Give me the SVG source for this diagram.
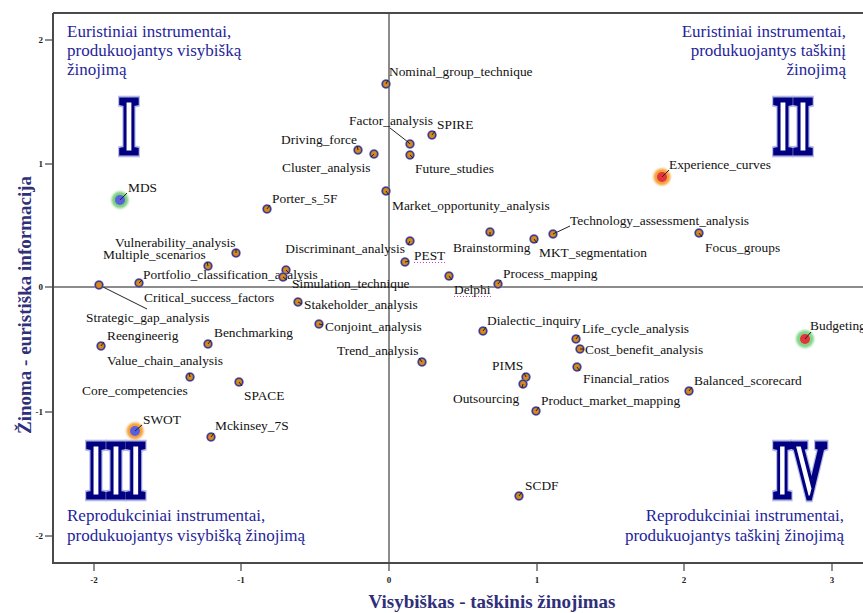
<svg xmlns="http://www.w3.org/2000/svg" xmlns:xlink="http://www.w3.org/1999/xlink" width="863" height="613" viewBox="0 0 863 613">
  <style>
    .lbl { font-family: "Liberation Serif", "Times New Roman", serif; font-size: 13.4px; fill: #111; }
    .end { text-anchor: end; }
    .quad { font-family: "Liberation Serif", "Times New Roman", serif; font-size: 17px; fill: #1f1f9c; }
    .axt { font-family: "Liberation Serif", "Times New Roman", serif; font-size: 19px; font-weight: bold; fill: #2f2f7a; text-anchor: middle; }
    .tk { font-family: "Liberation Serif", "Times New Roman", serif; font-size: 9px; font-weight: bold; fill: #222; }
    .roman { font-family: "Liberation Serif", "Times New Roman", serif; font-weight: bold; font-size: 80px; fill: #fff; stroke: #000080; stroke-width: 4; stroke-linejoin: miter; vector-effect: non-scaling-stroke; }
    .glow { font-family: "Liberation Serif", "Times New Roman", serif; font-weight: bold; font-size: 80px; fill: none; stroke: #b4b8e6; stroke-width: 7; vector-effect: non-scaling-stroke; }
    .frame { stroke: #4a4a4a; stroke-width: 2; fill: none; }
    .zero { stroke: #666; stroke-width: 1.5; }
    .tickl { stroke: #444; stroke-width: 1.2; }
    .lead { stroke: #222; stroke-width: 1; }
    .squig { stroke: #d040d0; stroke-width: 1; stroke-dasharray: 1 2; }
  </style>
  <defs>
    <g id="dot">
      <circle r="5" fill="#a8a8dc" opacity="0.6"/>
      <circle r="3.7" fill="#d8891a" stroke="#3c3c8e" stroke-width="1.6"/>
    </g>
    <filter id="soft" x="-50%" y="-50%" width="200%" height="200%">
      <feGaussianBlur stdDeviation="0.8"/>
    </filter>
  </defs>

  <rect width="863" height="613" fill="#fff"/>

  <!-- plot frame and zero lines -->
  <g id="axes">
    <line class="zero" x1="389" y1="13" x2="389" y2="563"/>
    <line class="zero" x1="53" y1="287" x2="863" y2="287"/>
    <line class="frame" x1="53" y1="13" x2="863" y2="13"/>
    <line class="frame" x1="53" y1="13" x2="53" y2="563"/>
    <line class="frame" x1="52" y1="563" x2="863" y2="563"/>
    <!-- y ticks -->
    <line class="tickl" x1="45" y1="40" x2="53" y2="40"/>
    <line class="tickl" x1="45" y1="164" x2="53" y2="164"/>
    <line class="tickl" x1="45" y1="287" x2="53" y2="287"/>
    <line class="tickl" x1="45" y1="412" x2="53" y2="412"/>
    <line class="tickl" x1="45" y1="536" x2="53" y2="536"/>
    <text class="tk" x="43" y="43" text-anchor="end">2</text>
    <text class="tk" x="43" y="167" text-anchor="end">1</text>
    <text class="tk" x="43" y="290" text-anchor="end">0</text>
    <text class="tk" x="43" y="415" text-anchor="end">-1</text>
    <text class="tk" x="43" y="539" text-anchor="end">-2</text>
    <!-- x ticks -->
    <line class="tickl" x1="94" y1="563" x2="94" y2="571"/>
    <line class="tickl" x1="241" y1="563" x2="241" y2="571"/>
    <line class="tickl" x1="389" y1="563" x2="389" y2="571"/>
    <line class="tickl" x1="537" y1="563" x2="537" y2="571"/>
    <line class="tickl" x1="684" y1="563" x2="684" y2="571"/>
    <line class="tickl" x1="832" y1="563" x2="832" y2="571"/>
    <text class="tk" x="94" y="583" text-anchor="middle">-2</text>
    <text class="tk" x="241" y="583" text-anchor="middle">-1</text>
    <text class="tk" x="389" y="583" text-anchor="middle">0</text>
    <text class="tk" x="537" y="583" text-anchor="middle">1</text>
    <text class="tk" x="684" y="583" text-anchor="middle">2</text>
    <text class="tk" x="832" y="583" text-anchor="middle">3</text>
    <text class="axt" x="492" y="608">Visybiškas - taškinis žinojimas</text>
    <text class="axt" transform="translate(31,305) rotate(-90)">Žinoma - euristiška informacija</text>
  </g>

  <!-- quadrant captions -->
  <g id="q1">
    <text class="quad" x="67" y="37">Euristiniai instrumentai,</text>
    <text class="quad" x="67" y="56">produkuojantys visybišką</text>
    <text class="quad" x="67" y="75">žinojimą</text>
    <text class="glow" transform="translate(119,153) scale(0.64,1)">I</text>
    <text class="roman" transform="translate(119,153) scale(0.64,1)">I</text>
  </g>
  <g id="q2">
    <text class="quad end" x="846" y="37">Euristiniai instrumentai,</text>
    <text class="quad end" x="846" y="56">produkuojantys taškinį</text>
    <text class="quad end" x="846" y="75">žinojimą</text>
    <text class="glow" transform="translate(773,153) scale(0.64,1)">II</text>
    <text class="roman" transform="translate(773,153) scale(0.64,1)">II</text>
  </g>
  <g id="q3">
    <text class="quad" x="67" y="521">Reprodukciniai instrumentai,</text>
    <text class="quad" x="67" y="541">produkuojantys visybišką žinojimą</text>
    <text class="glow" transform="translate(86,497) scale(0.64,1)">III</text>
    <text class="roman" transform="translate(86,497) scale(0.64,1)">III</text>
  </g>
  <g id="q4">
    <text class="quad end" x="844" y="521">Reprodukciniai instrumentai,</text>
    <text class="quad end" x="844" y="541">produkuojantys taškinį žinojimą</text>
    <text class="glow" transform="translate(773,497) scale(0.6,1)">IV</text>
    <text class="roman" transform="translate(773,497) scale(0.6,1)">IV</text>
  </g>

  <!-- leader lines from points to labels -->
  <g id="connectors">
    <line class="lead" x1="390" y1="128" x2="408" y2="142"/>
    <line class="lead" x1="553" y1="234" x2="570" y2="226"/>
    <line class="lead" x1="99" y1="285" x2="147" y2="309"/>
    <line class="lead" x1="120" y1="200" x2="127" y2="193"/>
    <line class="lead" x1="662" y1="177" x2="669" y2="170"/>
    <line class="lead" x1="135" y1="431" x2="142" y2="425"/>
    <line class="lead" x1="805" y1="339" x2="811" y2="332"/>
  </g>

  <!-- special points with halos -->
  <g id="n-mds">
    <circle cx="120" cy="200" r="8.5" fill="#7ad07a" filter="url(#soft)"/>
    <circle cx="120" cy="200" r="5" fill="#5a5ee0"/>
    <line class="lead" x1="120" y1="200" x2="127" y2="193"/>
    <text class="lbl" x="128" y="192">MDS</text>
  </g>
  <g id="n-experience">
    <circle cx="662" cy="177" r="8.5" fill="#f5a038" filter="url(#soft)"/>
    <circle cx="662" cy="177" r="5" fill="#e2343a"/>
    <line class="lead" x1="662" y1="177" x2="669" y2="170"/>
    <text class="lbl" x="669" y="169">Experience_curves</text>
  </g>
  <g id="n-swot">
    <circle cx="135" cy="431" r="8.5" fill="#f5a038" filter="url(#soft)"/>
    <circle cx="135" cy="431" r="5" fill="#5a5ee0"/>
    <line class="lead" x1="135" y1="431" x2="142" y2="425"/>
    <text class="lbl" x="143" y="424">SWOT</text>
  </g>
  <g id="n-budgeting">
    <circle cx="805" cy="339" r="9" fill="#82d48a" filter="url(#soft)"/>
    <circle cx="805" cy="339" r="5" fill="#e2343a"/>
    <line class="lead" x1="805" y1="339" x2="811" y2="332"/>
    <text class="lbl" x="810" y="330">Budgeting</text>
  </g>

  <!-- upper half -->
  <g id="n-nominal"><use xlink:href="#dot" x="386" y="84"/><line class="lead" x1="386" y1="84" x2="388" y2="80"/><text class="lbl" x="389" y="76">Nominal_group_technique</text></g>
  <g id="n-factor"><use xlink:href="#dot" x="410" y="144"/><line class="lead" x1="410" y1="144" x2="407" y2="141"/><text class="lbl" x="349" y="125">Factor_analysis</text></g>
  <g id="n-spire"><use xlink:href="#dot" x="432" y="135"/><line class="lead" x1="432" y1="135" x2="435" y2="131"/><text class="lbl" x="437" y="129">SPIRE</text></g>
  <g id="n-driving"><use xlink:href="#dot" x="358" y="150"/><line class="lead" x1="358" y1="150" x2="357" y2="146"/><text class="lbl" x="281" y="144">Driving_force</text></g>
  <g id="n-cluster"><use xlink:href="#dot" x="374" y="154"/><line class="lead" x1="374" y1="154" x2="371" y2="157"/><text class="lbl" x="282" y="172">Cluster_analysis</text></g>
  <g id="n-future"><use xlink:href="#dot" x="410" y="155"/><line class="lead" x1="410" y1="155" x2="413" y2="158"/><text class="lbl" x="415" y="173">Future_studies</text></g>
  <g id="n-market"><use xlink:href="#dot" x="386" y="191"/><line class="lead" x1="386" y1="191" x2="389" y2="195"/><text class="lbl" x="392" y="210">Market_opportunity_analysis</text></g>
  <g id="n-porter"><use xlink:href="#dot" x="267" y="209"/><line class="lead" x1="267" y1="209" x2="270" y2="205"/><text class="lbl" x="272" y="203">Porter_s_5F</text></g>
  <g id="n-technology"><use xlink:href="#dot" x="553" y="234"/><line class="lead" x1="553" y1="234" x2="557" y2="232"/><text class="lbl" x="570" y="225">Technology_assessment_analysis</text></g>
  <g id="n-discriminant"><use xlink:href="#dot" x="410" y="241"/><line class="lead" x1="410" y1="241" x2="408" y2="245"/><text class="lbl end" x="405" y="253">Discriminant_analysis</text></g>
  <g id="n-pest"><use xlink:href="#dot" x="405" y="262"/><line class="lead" x1="405" y1="262" x2="409" y2="261"/><text class="lbl" x="414" y="260">PEST</text><line class="squig" x1="414" y1="262.5" x2="446" y2="262.5"/></g>
  <g id="n-brainstorming"><use xlink:href="#dot" x="490" y="232"/><line class="lead" x1="490" y1="232" x2="490" y2="236"/><text class="lbl" x="453" y="252">Brainstorming</text></g>
  <g id="n-mkt"><use xlink:href="#dot" x="534" y="239"/><line class="lead" x1="534" y1="239" x2="537" y2="243"/><text class="lbl" x="539" y="257">MKT_segmentation</text></g>
  <g id="n-focus"><use xlink:href="#dot" x="699" y="233"/><line class="lead" x1="699" y1="233" x2="702" y2="237"/><text class="lbl" x="705" y="252">Focus_groups</text></g>
  <g id="n-process"><use xlink:href="#dot" x="498" y="284"/><line class="lead" x1="498" y1="284" x2="501" y2="280"/><text class="lbl" x="503" y="278">Process_mapping</text></g>
  <g id="n-delphi"><use xlink:href="#dot" x="449" y="276"/><line class="lead" x1="449" y1="276" x2="452" y2="280"/><text class="lbl" x="454" y="294">Delphi</text><line class="squig" x1="454" y1="296.5" x2="491" y2="296.5"/></g>

  <!-- left half -->
  <g id="n-vulnerability"><use xlink:href="#dot" x="236" y="253"/><line class="lead" x1="236" y1="253" x2="236" y2="249"/><text class="lbl" x="115" y="247">Vulnerability_analysis</text></g>
  <g id="n-multiple"><use xlink:href="#dot" x="208" y="266"/><line class="lead" x1="208" y1="266" x2="207" y2="262"/><text class="lbl" x="103" y="259">Multiple_scenarios</text></g>
  <g id="n-portfolio"><use xlink:href="#dot" x="139" y="283"/><line class="lead" x1="139" y1="283" x2="142" y2="280"/><text class="lbl" x="143" y="279">Portfolio_classification_analysis</text></g>
  <g id="n-point-a"><use xlink:href="#dot" x="286" y="270"/><line class="lead" x1="286" y1="270" x2="289" y2="273"/></g>
  <g id="n-simulation"><use xlink:href="#dot" x="283" y="277"/><line class="lead" x1="283" y1="277" x2="287" y2="280"/><text class="lbl" x="292" y="288">Simulation_technique</text></g>
  <g id="n-critical"><use xlink:href="#dot" x="99" y="285"/><text class="lbl" x="144" y="302">Critical_success_factors</text></g>
  <g id="n-strategic"><text class="lbl" x="86" y="322">Strategic_gap_analysis</text></g>
  <g id="n-stakeholder"><use xlink:href="#dot" x="298" y="302"/><line class="lead" x1="298" y1="302" x2="302" y2="304"/><text class="lbl" x="304" y="309">Stakeholder_analysis</text></g>
  <g id="n-conjoint"><use xlink:href="#dot" x="319" y="324"/><line class="lead" x1="319" y1="324" x2="323" y2="325"/><text class="lbl" x="325" y="331">Conjoint_analysis</text></g>
  <g id="n-reengineerig"><use xlink:href="#dot" x="101" y="346"/><line class="lead" x1="101" y1="346" x2="104" y2="342"/><text class="lbl" x="107" y="340">Reengineerig</text></g>
  <g id="n-benchmarking"><use xlink:href="#dot" x="208" y="344"/><line class="lead" x1="208" y1="344" x2="211" y2="340"/><text class="lbl" x="214" y="337">Benchmarking</text></g>
  <g id="n-valuechain"><use xlink:href="#dot" x="190" y="377"/><line class="lead" x1="190" y1="377" x2="189" y2="373"/><text class="lbl" x="107" y="365">Value_chain_analysis</text></g>
  <g id="n-core"><text class="lbl" x="82" y="395">Core_competencies</text></g>
  <g id="n-space"><use xlink:href="#dot" x="239" y="382"/><line class="lead" x1="239" y1="382" x2="242" y2="386"/><text class="lbl" x="244" y="400">SPACE</text></g>
  <g id="n-mckinsey"><use xlink:href="#dot" x="211" y="437"/><line class="lead" x1="211" y1="437" x2="214" y2="433"/><text class="lbl" x="215" y="430">Mckinsey_7S</text></g>
  <g id="n-trend"><use xlink:href="#dot" x="422" y="362"/><line class="lead" x1="422" y1="362" x2="419" y2="358"/><text class="lbl" x="337" y="355">Trend_analysis</text></g>

  <!-- lower right -->
  <g id="n-dialectic"><use xlink:href="#dot" x="483" y="331"/><line class="lead" x1="483" y1="331" x2="486" y2="327"/><text class="lbl" x="487" y="325">Dialectic_inquiry</text></g>
  <g id="n-lifecycle"><use xlink:href="#dot" x="576" y="339"/><line class="lead" x1="576" y1="339" x2="579" y2="335"/><text class="lbl" x="582" y="333">Life_cycle_analysis</text></g>
  <g id="n-costbenefit"><use xlink:href="#dot" x="580" y="349"/><line class="lead" x1="580" y1="349" x2="584" y2="349"/><text class="lbl" x="585" y="354">Cost_benefit_analysis</text></g>
  <g id="n-financial"><use xlink:href="#dot" x="577" y="367"/><line class="lead" x1="577" y1="367" x2="580" y2="371"/><text class="lbl" x="583" y="383">Financial_ratios</text></g>
  <g id="n-balanced"><use xlink:href="#dot" x="689" y="391"/><line class="lead" x1="689" y1="391" x2="692" y2="387"/><text class="lbl" x="694" y="385">Balanced_scorecard</text></g>
  <g id="n-pims"><use xlink:href="#dot" x="526" y="377"/><line class="lead" x1="526" y1="377" x2="524" y2="373"/><text class="lbl" x="492" y="370">PIMS</text></g>
  <g id="n-outsourcing"><use xlink:href="#dot" x="523" y="384"/><line class="lead" x1="523" y1="384" x2="522" y2="388"/><text class="lbl" x="453" y="403">Outsourcing</text></g>
  <g id="n-product"><use xlink:href="#dot" x="536" y="411"/><line class="lead" x1="536" y1="411" x2="539" y2="407"/><text class="lbl" x="541" y="405">Product_market_mapping</text></g>
  <g id="n-scdf"><use xlink:href="#dot" x="519" y="496"/><line class="lead" x1="519" y1="496" x2="522" y2="492"/><text class="lbl" x="525" y="490">SCDF</text></g>
</svg>
